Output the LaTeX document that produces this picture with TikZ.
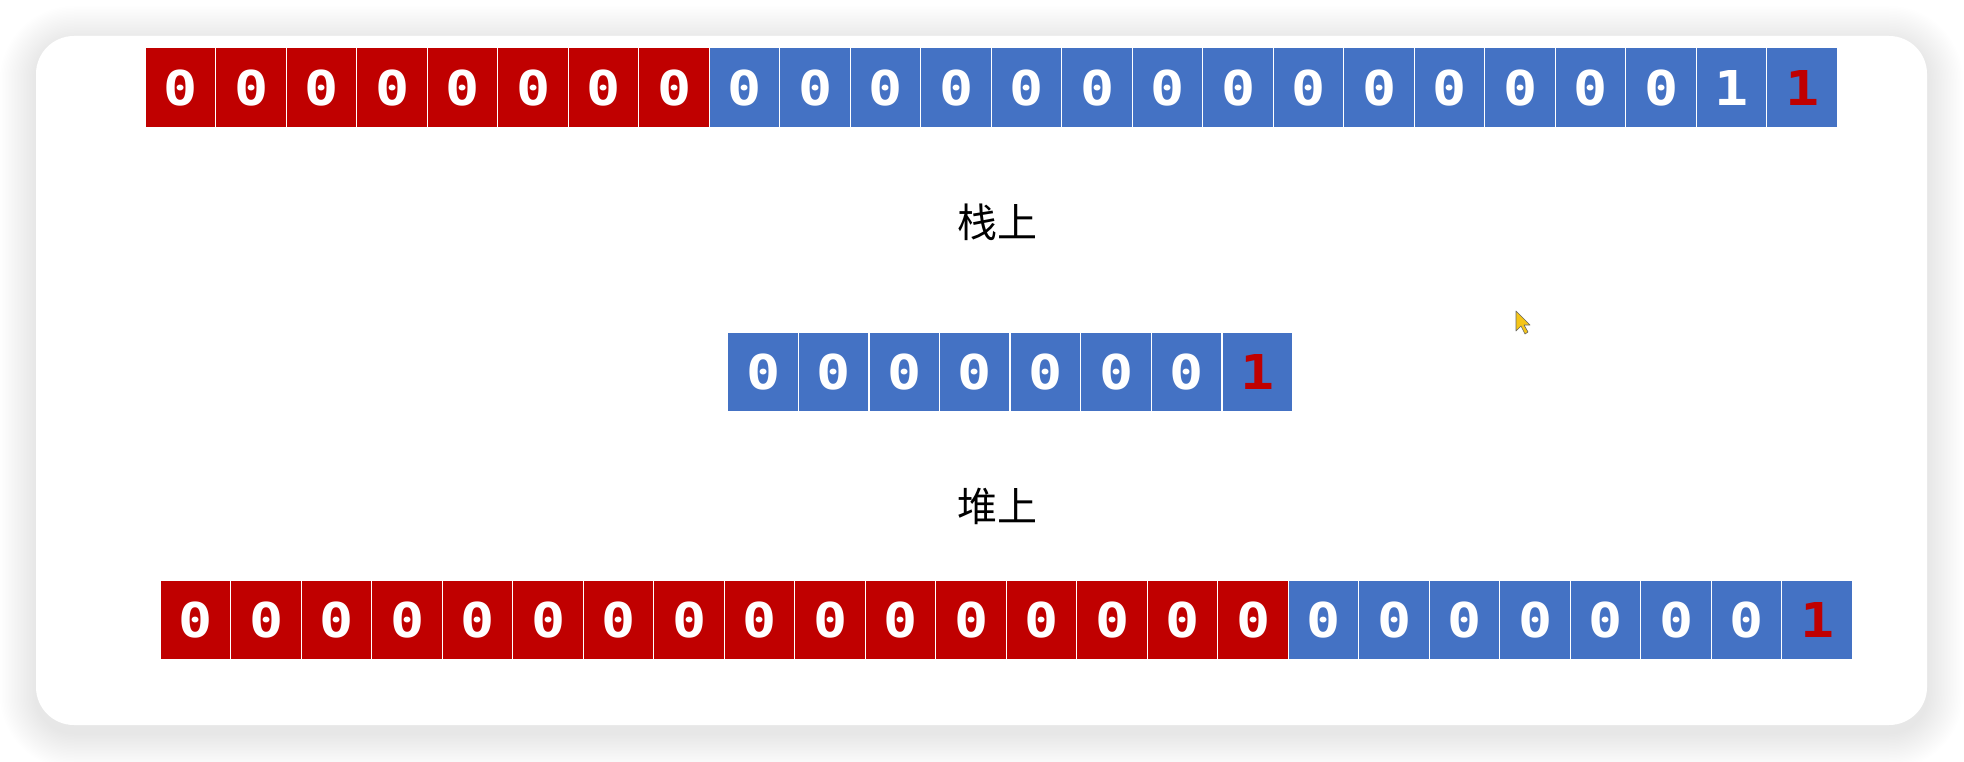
\documentclass[tikz,border=0pt]{standalone}
\usepackage{fontspec}
\usepackage{xcolor}
\newfontfamily\digitfamily{DejaVu Sans Mono}[FakeStretch=1.18]
\newfontfamily\cjk{Noto Sans CJK SC}
\definecolor{cellred}{HTML}{C00000}
\definecolor{cellblue}{HTML}{4472C4}
\definecolor{cursoryellow}{HTML}{F5C518}

\begin{document}
\begin{tikzpicture}[x=1pt, y=-1pt,
  cell/.style={draw=white, line width=1.3pt, minimum width=70.5pt, minimum height=80pt, inner sep=0pt, text=white, font=\digitfamily\bfseries\fontsize{48}{56}\selectfont},
  redcell/.style={cell, fill=cellred},
  bluecell/.style={cell, fill=cellblue},
  lab/.style={font=\cjk\fontsize{40}{48}\selectfont}]
  \useasboundingbox (0,0) rectangle (1964,762);
  % card with soft shadow
  \foreach \s in {1,...,24}
    \fill[black, opacity=0.0045, rounded corners=38+1.5*\s] (36-1.5*\s,42-1.5*\s) rectangle (1927+1.5*\s,733+1.5*\s);
  \fill[white, rounded corners=38] (36,36) rectangle (1927,725);
  % stack row
  \node[lab] (stk) at (997,222) {栈上};
  % heap row
  \node[lab] (hp) at (997,506) {堆上};
  \foreach \i in {0,...,7}
    \node[redcell] (t\i) at (180.55+70.5*\i,87.7) {0};
  \foreach \i in {8,...,21}
    \node[bluecell] (t\i) at (180.55+70.5*\i,87.7) {0};
  \node[bluecell] (t22) at (180.55+70.5*22,87.7) {1};
  \node[bluecell, text=cellred] (t23) at (180.55+70.5*23,87.7) {1};
  \foreach \i in {0,...,6}
    \node[bluecell] (m\i) at (763.05+70.6*\i,372) {0};
  \node[bluecell, text=cellred] (m7) at (763.05+70.6*7,372) {1};
  \foreach \i in {0,...,15}
    \node[redcell] (b\i) at (195.55+70.5*\i,620) {0};
  \foreach \i in {16,...,22}
    \node[bluecell] (b\i) at (195.55+70.5*\i,620) {0};
  \node[bluecell, text=cellred] (b23) at (195.55+70.5*23,620) {1};
  % mouse pointer
  \filldraw[fill=cursoryellow, draw=black!60, line width=0.6pt, line join=round]
    (1516,311) -- (1516,331) -- (1521,326) -- (1525,334) -- (1528,332) -- (1524,325) -- (1530,325) -- cycle;
\end{tikzpicture}
\end{document}
